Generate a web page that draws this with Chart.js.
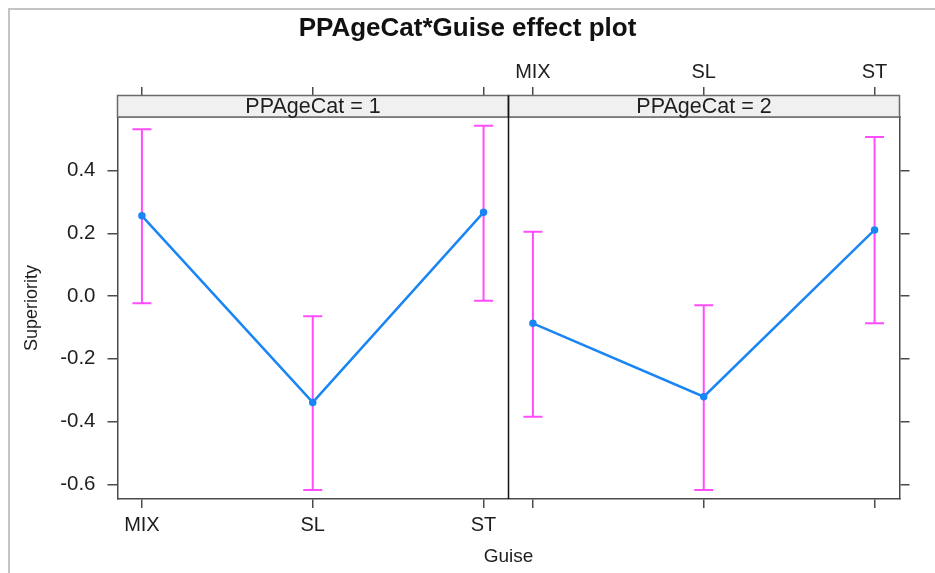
<!DOCTYPE html>
<html>
<head>
<meta charset="utf-8">
<script src="https://cdn.jsdelivr.net/npm/chart.js@4/dist/chart.umd.min.js"></script>
<style>
  html, body { margin: 0; padding: 0; background: #ffffff; }
  #wrap { width: 935px; height: 573px; }
</style>
</head>
<body>
<div id="wrap"><canvas id="c" width="935" height="573"></canvas></div>
<script>
// ---- data ----
const categories = ['MIX', 'SL', 'ST'];
const panelLabels = ['PPAgeCat = 1', 'PPAgeCat = 2'];
const fit1   = [0.256, -0.339, 0.267];
const lower1 = [-0.023, -0.618, -0.015];
const upper1 = [0.532, -0.064, 0.543];
const fit2   = [-0.087, -0.321, 0.211];
const lower2 = [-0.385, -0.618, -0.087];
const upper2 = [0.205, -0.029, 0.507];
const yTickValues = [-0.6, -0.4, -0.2, 0.0, 0.2, 0.4];

// ---- layout helpers (panel geometry in category units) ----
const panelSpan = 2.289;          // width of one panel in category units
const xMin = -0.143;
const xMax = xMin + 2 * panelSpan;
const yMin = -0.647, yMax = 0.571;

const xPositions = [];            // category positions for both panels
[0, 1].forEach(p => categories.forEach((c, i) => xPositions.push(i + p * panelSpan)));

function fitPoints(fit, p) {
  return fit.map((v, i) => ({ x: i + p * panelSpan, y: v }));
}
function errPoints(lo, hi, p) {
  const pts = [];
  lo.forEach((v, i) => {
    const x = i + p * panelSpan;
    pts.push({ x: x, y: v }, { x: x, y: hi[i] }, { x: x, y: null });
  });
  return pts;
}

const BLUE = '#1a86f5';
const MAGENTA = '#ff4cff';
const AXIS = '#4a4a4a';
const TXT = '#1e1e1e';
const FONT = "'Liberation Sans', Arial, sans-serif";

const stripPlugin = {
  id: 'strips',
  beforeDraw(chart) {
    const ctx = chart.ctx;
    ctx.save();
    ctx.fillStyle = '#ffffff';
    ctx.fillRect(0, 0, chart.width, chart.height);
    ctx.strokeStyle = '#c4c4c4';
    ctx.lineWidth = 2;
    ctx.beginPath();
    ctx.moveTo(9, chart.height);
    ctx.lineTo(9, 9);
    ctx.lineTo(chart.width, 9);
    ctx.stroke();
    ctx.restore();
  },
  afterDraw(chart) {
    const ctx = chart.ctx;
    const xs = chart.scales.x;
    const area = chart.chartArea;
    const stripTop = 95.5;
    const stripBottom = area.top;
    ctx.save();
    panelLabels.forEach((lab, p) => {
      const x0 = xs.getPixelForValue(xMin + p * panelSpan);
      const x1 = xs.getPixelForValue(xMin + (p + 1) * panelSpan);
      ctx.fillStyle = '#f0f0f0';
      ctx.fillRect(x0, stripTop, x1 - x0, stripBottom - stripTop);
      ctx.strokeStyle = '#6a6a6a';
      ctx.lineWidth = 1.5;
      ctx.strokeRect(x0, stripTop, x1 - x0, stripBottom - stripTop);
      ctx.fillStyle = TXT;
      ctx.font = "21.5px " + FONT;
      ctx.textAlign = 'center';
      ctx.textBaseline = 'middle';
      ctx.fillText(lab, (x0 + x1) / 2, (stripTop + stripBottom) / 2 + 1);
    });
    // panel divider
    const xd = xs.getPixelForValue(xMin + panelSpan);
    ctx.strokeStyle = '#111111';
    ctx.lineWidth = 1.5;
    ctx.beginPath();
    ctx.moveTo(xd, stripTop);
    ctx.lineTo(xd, area.bottom);
    ctx.stroke();
    ctx.restore();
  }
};

const xTickCallbackBottom = (v, i) => (i < categories.length ? categories[i] : '');
const xTickCallbackTop = (v, i) => (i >= categories.length ? categories[i - categories.length] : '');

const commonGrid = { drawOnChartArea: false, color: AXIS, lineWidth: 1.5 };
const tickFont = { family: FONT, size: 20 };

new Chart(document.getElementById('c'), {
  type: 'line',
  data: {
    datasets: [
      { label: 'fit1', data: fitPoints(fit1, 0), borderColor: BLUE, backgroundColor: BLUE,
        borderWidth: 2.5, pointRadius: 3, pointBorderWidth: 1.5, pointBackgroundColor: BLUE, tension: 0 },
      { label: 'fit2', data: fitPoints(fit2, 1), borderColor: BLUE, backgroundColor: BLUE,
        borderWidth: 2.5, pointRadius: 3, pointBorderWidth: 1.5, pointBackgroundColor: BLUE, tension: 0 },
      { label: 'ci1', data: errPoints(lower1, upper1, 0), borderColor: MAGENTA, backgroundColor: MAGENTA,
        borderWidth: 2, pointStyle: 'line', pointRadius: 9.5, pointBorderWidth: 2, pointBorderColor: MAGENTA, spanGaps: false },
      { label: 'ci2', data: errPoints(lower2, upper2, 1), borderColor: MAGENTA, backgroundColor: MAGENTA,
        borderWidth: 2, pointStyle: 'line', pointRadius: 9.5, pointBorderWidth: 2, pointBorderColor: MAGENTA, spanGaps: false }
    ]
  },
  options: {
    responsive: false,
    animation: false,
    devicePixelRatio: 1,
    layout: { padding: 0 },
    plugins: {
      legend: { display: false },
      tooltip: { enabled: false },
      title: {
        display: true,
        text: 'PPAgeCat*Guise effect plot',
        color: '#111111',
        font: { family: FONT, size: 26, weight: 'bold', lineHeight: 1.2 },
        padding: { top: 13, bottom: 0 }
      }
    },
    scales: {
      x: {
        type: 'linear', position: 'bottom', min: xMin, max: xMax,
        afterBuildTicks: s => { s.ticks = xPositions.map(v => ({ value: v })); },
        afterFit: s => { s.height = 74; },
        ticks: { callback: xTickCallbackBottom, autoSkip: false, maxRotation: 0, color: TXT, font: tickFont, padding: 5 },
        grid: Object.assign({ tickLength: 9 }, commonGrid),
        border: { display: true, color: AXIS, width: 1.5 },
        title: { display: true, text: 'Guise', color: TXT, font: { family: FONT, size: 19 }, padding: { top: 0, bottom: 5 } }
      },
      xTop: {
        type: 'linear', position: 'top', min: xMin, max: xMax,
        afterBuildTicks: s => { s.ticks = xPositions.map(v => ({ value: v })); },
        afterFit: s => { s.height = 117 - 44.2; },
        ticks: { callback: xTickCallbackTop, autoSkip: false, maxRotation: 0, color: TXT, font: tickFont, padding: 3 },
        grid: Object.assign({ tickLength: 30 }, commonGrid),
        border: { display: true, color: AXIS, width: 1.5 }
      },
      y: {
        type: 'linear', position: 'left', min: yMin, max: yMax,
        afterBuildTicks: s => { s.ticks = yTickValues.map(v => ({ value: v })); },
        afterFit: s => { s.width = 117.5; },
        ticks: { callback: v => v.toFixed(1), color: TXT, font: { family: FONT, size: 20.5 }, padding: 12 },
        grid: Object.assign({ tickLength: 10 }, commonGrid),
        border: { display: true, color: AXIS, width: 1.5 },
        title: { display: true, text: 'Superiority', color: TXT, font: { family: FONT, size: 18 }, padding: { top: 21, bottom: 0 } }
      },
      y2: {
        type: 'linear', position: 'right', min: yMin, max: yMax,
        afterBuildTicks: s => { s.ticks = yTickValues.map(v => ({ value: v })); },
        afterFit: s => { s.width = 35.5; },
        ticks: { callback: () => '', font: tickFont, padding: 0 },
        grid: Object.assign({ tickLength: 10 }, commonGrid),
        border: { display: true, color: AXIS, width: 1.5 }
      }
    }
  },
  plugins: [stripPlugin]
});
</script>
</body>
</html>
